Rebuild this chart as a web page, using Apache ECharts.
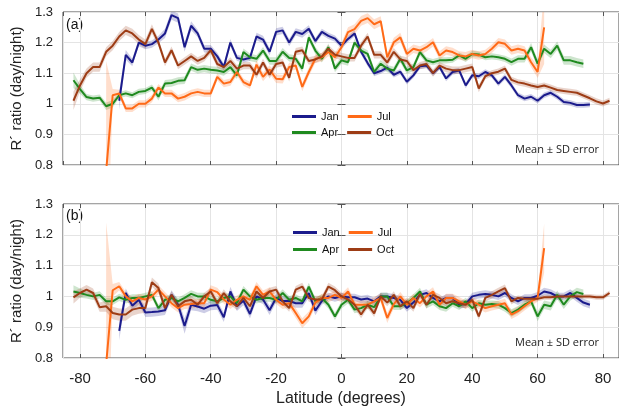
<!DOCTYPE html>
<html>
<head>
<meta charset="utf-8">
<script src="https://cdn.jsdelivr.net/npm/echarts@6/dist/echarts.min.js"></script>
<style>html,body{margin:0;padding:0;background:#fff}#c{width:619px;height:414px}</style>
</head>
<body>
<div id="c"></div>
<script>
// ---------- DATA ----------
const monthNames = ['Jan', 'Apr', 'Jul', 'Oct'];
const yTicks = [0.8, 0.9, 1.0, 1.1, 1.2, 1.3];
const xTicks = [-80, -60, -40, -20, 0, 20, 40, 60, 80];

const latJan = [-68,-66,-64,-62,-60,-58,-56,-54,-52,-50,-48,-46,-44,-42,-40,-38,-36,-34,-32,-30,-28,-26,-24,-22,-20,-18,-16,-14,-12,-10,-8,-6,-4,-2,0,2,4,6,8,10,12,14,16,18,20,22,24,26,28,30,32,34,36,38,40,42,44,46,48,50,52,54,56,58,60,62,64,66,68,70,72,74,76];
const latApr = [-82,-80,-78,-76,-74,-72,-70,-68,-66,-64,-62,-60,-58,-56,-54,-52,-50,-48,-46,-44,-42,-40,-38,-36,-34,-32,-30,-28,-26,-24,-22,-20,-18,-16,-14,-12,-10,-8,-6,-4,-2,0,2,4,6,8,10,12,14,16,18,20,22,24,26,28,30,32,34,36,38,40,42,44,46,48,50,52,54,56,58,60,62,64,66,68,70,72,74];
const latJul = [-72,-70,-68,-66,-64,-62,-60,-58,-56,-54,-52,-50,-48,-46,-44,-42,-40,-38,-36,-34,-32,-30,-28,-26,-24,-22,-20,-18,-16,-14,-12,-10,-8,-6,-4,-2,0,2,4,6,8,10,12,14,16,18,20,22,24,26,28,30,32,34,36,38,40,42,44,46,48,50,52,54,56,58,60,62];
const latOct = [-82,-80,-78,-76,-74,-72,-70,-68,-66,-64,-62,-60,-58,-56,-54,-52,-50,-48,-46,-44,-42,-40,-38,-36,-34,-32,-30,-28,-26,-24,-22,-20,-18,-16,-14,-12,-10,-8,-6,-4,-2,0,2,4,6,8,10,12,14,16,18,20,22,24,26,28,30,32,34,36,38,40,42,44,46,48,50,52,54,56,58,60,62,64,66,68,70,72,74,76,78,80,82];

// Panel (a) means
const janA = [1.01,1.16,1.135,1.20,1.19,1.195,1.21,1.23,1.29,1.28,1.185,1.255,1.23,1.18,1.18,1.155,1.12,1.20,1.15,1.145,1.15,1.22,1.21,1.17,1.235,1.24,1.20,1.235,1.228,1.245,1.205,1.235,1.222,1.213,1.19,1.212,1.23,1.17,1.133,1.10,1.107,1.118,1.095,1.105,1.072,1.093,1.123,1.125,1.10,1.12,1.083,1.104,1.109,1.06,1.093,1.09,1.104,1.093,1.066,1.088,1.06,1.028,1.017,1.023,1.01,1.028,1.036,1.023,1.006,1.003,0.996,0.996,0.998];
const aprA = [1.077,1.048,1.022,1.017,1.02,0.992,1.0,1.028,1.034,1.028,1.039,1.042,1.053,1.023,1.066,1.068,1.075,1.077,1.12,1.111,1.115,1.111,1.109,1.104,1.12,1.093,1.169,1.152,1.147,1.174,1.14,1.14,1.17,1.15,1.147,1.115,1.217,1.174,1.147,1.185,1.115,1.142,1.136,1.2,1.174,1.163,1.104,1.131,1.115,1.109,1.147,1.109,1.12,1.169,1.142,1.136,1.142,1.142,1.144,1.158,1.147,1.163,1.161,1.152,1.155,1.152,1.147,1.136,1.147,1.147,1.185,1.131,1.18,1.163,1.19,1.142,1.142,1.136,1.131];
const julA = [0.78,1.028,1.034,0.985,0.985,1.0,1.0,1.017,1.053,1.034,1.034,1.017,1.023,1.034,1.039,1.034,1.034,1.088,1.066,1.071,1.104,1.071,1.06,1.128,1.088,1.112,1.082,1.08,1.12,1.125,1.055,1.104,1.147,1.152,1.169,1.152,1.185,1.234,1.244,1.271,1.28,1.26,1.27,1.152,1.201,1.217,1.163,1.18,1.174,1.185,1.201,1.158,1.174,1.169,1.158,1.155,1.163,1.158,1.163,1.18,1.201,1.196,1.174,1.18,1.174,1.136,1.104,1.25];
const octA = [1.01,1.06,1.10,1.12,1.12,1.17,1.19,1.22,1.24,1.23,1.21,1.195,1.245,1.20,1.135,1.175,1.125,1.14,1.155,1.14,1.15,1.175,1.13,1.12,1.14,1.115,1.125,1.125,1.095,1.135,1.095,1.13,1.135,1.085,1.17,1.175,1.14,1.145,1.155,1.18,1.16,1.155,1.15,1.15,1.19,1.22,1.16,1.16,1.135,1.17,1.145,1.14,1.11,1.125,1.13,1.10,1.125,1.115,1.11,1.11,1.115,1.12,1.05,1.09,1.10,1.105,1.115,1.078,1.07,1.066,1.06,1.055,1.06,1.053,1.045,1.042,1.039,1.036,1.027,1.018,1.008,1.001,1.01];

// Panel (a) SD error
const janSdA = [0.03,0.016,0.012,0.012,0.012,0.012,0.012,0.015,0.015,0.015,0.015,0.015,0.012,0.012,0.012,0.012,0.012,0.012,0.01,0.01,0.01,0.012,0.012,0.012,0.012,0.012,0.012,0.012,0.012,0.012,0.01,0.01,0.01,0.01,0.01,0.01,0.01,0.01,0.01,0.01,0.009,0.009,0.009,0.009,0.009,0.009,0.009,0.009,0.009,0.009,0.009,0.009,0.009,0.009,0.009,0.009,0.009,0.009,0.009,0.009,0.009,0.009,0.009,0.009,0.009,0.009,0.009,0.009,0.009,0.009,0.009,0.009,0.009];
const aprSdA = [0.025,0.015,0.01,0.01,0.01,0.012,0.012,0.01,0.01,0.01,0.01,0.01,0.01,0.012,0.012,0.012,0.012,0.012,0.012,0.012,0.012,0.012,0.012,0.012,0.012,0.012,0.012,0.012,0.012,0.012,0.012,0.012,0.012,0.012,0.012,0.012,0.012,0.012,0.012,0.012,0.012,0.012,0.012,0.012,0.012,0.012,0.012,0.012,0.012,0.012,0.012,0.012,0.012,0.012,0.01,0.01,0.01,0.01,0.01,0.01,0.01,0.01,0.01,0.01,0.01,0.01,0.01,0.012,0.012,0.012,0.014,0.014,0.014,0.014,0.014,0.014,0.014,0.014,0.014];
const julSdA = [0.36,0.02,0.012,0.012,0.012,0.012,0.012,0.012,0.012,0.012,0.012,0.012,0.012,0.012,0.012,0.012,0.012,0.012,0.012,0.012,0.012,0.012,0.012,0.014,0.014,0.014,0.014,0.014,0.014,0.014,0.014,0.014,0.014,0.014,0.014,0.014,0.015,0.016,0.016,0.016,0.016,0.016,0.016,0.015,0.015,0.015,0.014,0.014,0.014,0.014,0.014,0.014,0.014,0.014,0.014,0.014,0.014,0.014,0.014,0.014,0.014,0.014,0.014,0.014,0.014,0.016,0.02,0.12];
const octSdA = [0.03,0.02,0.015,0.015,0.015,0.015,0.015,0.015,0.015,0.015,0.015,0.015,0.015,0.012,0.012,0.012,0.012,0.012,0.012,0.012,0.012,0.012,0.012,0.012,0.012,0.012,0.012,0.012,0.012,0.012,0.012,0.012,0.012,0.012,0.012,0.012,0.012,0.012,0.012,0.012,0.012,0.012,0.012,0.012,0.012,0.012,0.012,0.012,0.012,0.012,0.012,0.012,0.012,0.012,0.012,0.012,0.012,0.012,0.012,0.012,0.012,0.012,0.012,0.01,0.01,0.01,0.01,0.01,0.01,0.01,0.01,0.01,0.01,0.01,0.01,0.01,0.01,0.01,0.01,0.01,0.01,0.01,0.01];

// Panel (b) means
const janB = [0.888,1.011,0.97,0.989,0.948,0.949,0.951,0.955,1.005,0.973,0.904,0.973,0.967,0.96,0.97,0.972,0.932,1.016,0.968,0.986,0.943,1.0,0.99,0.955,0.995,0.985,0.985,0.978,0.978,1.011,0.954,0.985,1.0,0.995,1.0,0.997,0.997,0.99,0.993,0.984,1.0,1.0,0.995,0.989,0.962,0.98,1.005,1.011,0.995,0.984,0.995,0.995,0.973,0.975,1.0,1.005,1.008,1.005,1.0,1.011,0.995,0.984,0.995,0.995,1.002,1.016,1.011,1.0,1.0,1.011,0.995,0.98,0.973];
const aprB = [1.016,1.011,1.005,1.0,1.005,0.984,0.984,0.997,0.989,0.995,0.995,1.0,1.005,0.962,0.989,0.995,0.984,0.995,1.008,1.0,1.0,0.989,0.984,0.995,1.0,0.978,1.022,1.0,0.989,0.995,0.995,0.989,1.011,0.989,0.995,0.984,1.032,0.984,0.995,0.973,0.935,0.973,0.989,0.957,0.962,0.973,0.965,1.0,1.0,0.968,0.968,0.978,0.995,1.016,0.973,0.984,0.968,0.962,0.978,0.968,0.984,0.962,0.978,0.973,0.975,0.973,0.962,0.946,0.957,0.973,0.984,0.935,0.973,0.968,1.005,0.973,1.0,1.014,1.008];
const julB = [0.78,1.02,1.033,1.0,0.984,0.995,0.99,1.0,1.022,1.0,0.978,0.962,0.973,0.975,0.978,0.978,1.022,1.014,0.99,0.973,0.989,1.0,0.989,1.033,1.005,1.016,0.989,0.973,0.978,0.946,0.913,0.935,0.98,0.995,0.995,1.005,0.995,1.016,0.973,0.973,0.973,0.984,0.995,0.93,0.975,1.0,0.973,0.995,0.978,1.0,1.016,0.973,0.995,0.995,0.984,0.973,0.984,0.973,0.962,0.968,0.973,0.978,0.941,0.952,0.968,0.984,0.995,1.157];
const octB = [0.997,1.011,1.022,1.011,0.965,0.968,0.946,0.941,0.941,0.957,0.962,0.962,1.046,1.027,0.962,1.005,0.968,0.984,0.989,0.973,1.0,1.016,0.978,1.011,0.984,0.968,0.995,0.968,1.016,0.995,1.016,1.022,0.984,0.962,1.022,1.032,0.995,0.99,0.99,1.032,1.02,1.0,0.99,0.973,0.941,0.973,0.945,1.0,0.98,1.005,0.968,0.984,0.962,1.008,0.973,1.005,0.995,0.978,0.984,0.978,0.973,0.989,0.935,0.995,1.005,1.016,1.027,0.984,0.995,0.992,0.992,0.992,0.997,0.997,1.0,1.0,1.0,1.0,1.0,1.0,0.997,0.997,1.011];

// Panel (b) SD error
const janSdB = [0.03,0.015,0.015,0.015,0.015,0.015,0.015,0.015,0.015,0.015,0.025,0.018,0.015,0.015,0.015,0.015,0.015,0.015,0.015,0.015,0.015,0.015,0.015,0.015,0.015,0.015,0.015,0.015,0.015,0.015,0.015,0.012,0.012,0.012,0.012,0.012,0.012,0.012,0.012,0.012,0.012,0.012,0.012,0.012,0.012,0.012,0.012,0.012,0.012,0.012,0.012,0.012,0.012,0.012,0.012,0.012,0.012,0.012,0.012,0.012,0.012,0.012,0.012,0.012,0.012,0.012,0.012,0.012,0.012,0.012,0.012,0.012,0.012];
const aprSdB = [0.02,0.015,0.012,0.012,0.012,0.012,0.012,0.012,0.012,0.012,0.012,0.012,0.012,0.012,0.012,0.012,0.012,0.012,0.012,0.012,0.012,0.012,0.012,0.012,0.012,0.012,0.012,0.012,0.012,0.012,0.012,0.012,0.012,0.012,0.012,0.012,0.012,0.012,0.012,0.012,0.012,0.012,0.012,0.012,0.012,0.012,0.012,0.012,0.012,0.012,0.012,0.012,0.012,0.012,0.012,0.012,0.012,0.012,0.012,0.012,0.012,0.012,0.012,0.012,0.012,0.012,0.012,0.012,0.012,0.012,0.012,0.016,0.014,0.014,0.014,0.014,0.014,0.014,0.014];
const julSdB = [0.46,0.02,0.014,0.014,0.014,0.014,0.014,0.014,0.014,0.014,0.014,0.014,0.014,0.014,0.014,0.014,0.014,0.014,0.014,0.014,0.014,0.014,0.014,0.014,0.014,0.014,0.014,0.014,0.014,0.016,0.016,0.016,0.014,0.014,0.014,0.014,0.014,0.014,0.014,0.014,0.014,0.014,0.014,0.016,0.014,0.014,0.014,0.014,0.014,0.014,0.014,0.014,0.014,0.014,0.014,0.014,0.014,0.014,0.014,0.014,0.014,0.014,0.014,0.014,0.014,0.014,0.012,0.08];
const octSdB = [0.02,0.015,0.015,0.015,0.015,0.018,0.02,0.02,0.02,0.02,0.018,0.015,0.015,0.015,0.015,0.012,0.012,0.012,0.012,0.012,0.012,0.012,0.012,0.012,0.012,0.012,0.012,0.012,0.012,0.012,0.012,0.012,0.012,0.012,0.012,0.012,0.012,0.012,0.012,0.012,0.012,0.012,0.012,0.012,0.012,0.012,0.012,0.012,0.012,0.012,0.012,0.012,0.012,0.012,0.012,0.012,0.012,0.012,0.012,0.012,0.012,0.012,0.012,0.012,0.012,0.012,0.012,0.01,0.008,0.008,0.008,0.008,0.008,0.008,0.008,0.008,0.008,0.008,0.008,0.008,0.008,0.008,0.008];

// ---------- STYLE ----------
const colors = { Jan: '#1b1b8c', Apr: '#1f8a1f', Jul: '#ff6a17', Oct: '#9d3c15' };
const FONT = '"Liberation Sans", Arial, sans-serif';

const panels = [
  { Jan: [latJan, janA, janSdA], Apr: [latApr, aprA, aprSdA], Jul: [latJul, julA, julSdA], Oct: [latOct, octA, octSdA] },
  { Jan: [latJan, janB, janSdB], Apr: [latApr, aprB, aprSdB], Jul: [latJul, julB, julSdB], Oct: [latOct, octB, octSdB] }
];

const series = [];
panels.forEach((p, gi) => {
  // SD bands as polygons through the axes' scales
  monthNames.forEach(m => {
    const [lat, v, sd] = p[m];
    const n = Math.min(lat.length, v.length, sd.length);
    series.push({
      type: 'custom', xAxisIndex: gi, yAxisIndex: gi, silent: true, z: 1, clip: true, animation: false,
      data: [[lat[0], v[0]]],
      renderItem: (params, api) => {
        const pts = [];
        for (let i = 0; i < n; i++) pts.push(api.coord([lat[i], v[i] + sd[i]]));
        for (let i = n - 1; i >= 0; i--) pts.push(api.coord([lat[i], v[i] - sd[i]]));
        const cs = params.coordSys;
        return {
          type: 'polygon', shape: { points: pts },
          style: { fill: colors[m], opacity: 0.22 },
          clipPath: { type: 'rect', shape: { x: cs.x, y: cs.y, width: cs.width, height: cs.height } }
        };
      }
    });
  });
  monthNames.forEach(m => {
    const [lat, v] = p[m];
    const n = Math.min(lat.length, v.length);
    const d = [];
    for (let i = 0; i < n; i++) d.push([lat[i], v[i]]);
    series.push({ type: 'line', name: m, xAxisIndex: gi, yAxisIndex: gi, data: d, symbol: 'none', clip: true,
      itemStyle: { color: colors[m] }, lineStyle: { color: colors[m], width: 2 }, z: 3, animation: false });
  });
});

const grids = [
  { left: 63, top: 12, width: 557, height: 153 },
  { left: 63, top: 204, width: 557, height: 154 }
].map(g => Object.assign(g, { show: true, borderColor: '#4a4a4a', borderWidth: 1, backgroundColor: 'transparent' }));

const xMin = -85.2, xMax = 84.9;
const xAxes = [];
const yAxes = [];
[0, 1].forEach(gi => {
  xAxes.push({ type: 'value', gridIndex: gi, min: xMin, max: xMax, splitNumber: 8, minInterval: 20, maxInterval: 20,
    axisLine: { show: false },
    axisTick: { show: true, inside: true, length: 4, lineStyle: { color: '#555' } },
    axisLabel: { show: gi === 1, showMinLabel: false, showMaxLabel: false, fontSize: 15, color: '#222', margin: 13, fontFamily: FONT,
      formatter: v => xTicks.includes(Math.round(v)) ? String(Math.round(v)) : '' },
    splitLine: { show: true, lineStyle: { color: '#e4e4e4', width: 1 } },
    name: gi === 1 ? 'Latitude (degrees)' : '', nameLocation: 'middle', nameGap: 33,
    nameTextStyle: { fontSize: 16, color: '#222', fontFamily: FONT } });
  yAxes.push({ type: 'value', gridIndex: gi, min: yTicks[0], max: yTicks[yTicks.length - 1], interval: 0.1,
    axisLine: { show: false },
    axisTick: { show: true, inside: true, length: 4, lineStyle: { color: '#555' } },
    axisLabel: { fontSize: 13, color: '#222', margin: 10, fontFamily: FONT },
    splitLine: { show: true, lineStyle: { color: '#e4e4e4', width: 1 } },
    name: 'R\u00b4 ratio (day/night)', nameLocation: 'middle', nameGap: 38,
    nameTextStyle: { fontSize: 15, color: '#222', fontFamily: FONT } });
});
[0, 1].forEach(gi => {
  xAxes.push({ type: 'value', gridIndex: gi, position: 'top', min: xMin, max: xMax, splitNumber: 8, minInterval: 20, maxInterval: 20,
    axisLine: { show: false }, axisLabel: { show: false }, splitLine: { show: false },
    axisTick: { show: true, inside: true, length: 4, lineStyle: { color: '#555' } } });
  yAxes.push({ type: 'value', gridIndex: gi, position: 'right', min: 0.8, max: 1.3, interval: 0.1,
    axisLine: { show: false }, axisLabel: { show: false }, splitLine: { show: false },
    axisTick: { show: true, inside: true, length: 4, lineStyle: { color: '#555' } } });
});

const legendBase = { icon: 'rect', itemWidth: 24, itemHeight: 3, itemGap: 9, orient: 'horizontal', selectedMode: false,
  textStyle: { fontSize: 11, color: '#111', fontFamily: FONT }, padding: 0 };
const legends = [
  Object.assign({}, legendBase, { left: 292, top: 111, data: ['Jan', 'Jul'] }),
  Object.assign({}, legendBase, { left: 292, top: 127, data: ['Apr', 'Oct'] }),
  Object.assign({}, legendBase, { left: 293, top: 227, data: ['Jan', 'Jul'] }),
  Object.assign({}, legendBase, { left: 293, top: 244, data: ['Apr', 'Oct'] })
];

const chart = echarts.init(document.getElementById('c'), null, { renderer: 'canvas' });
chart.setOption({
  animation: false,
  backgroundColor: '#fff',
  grid: grids,
  xAxis: xAxes,
  yAxis: yAxes,
  legend: legends,
  series: series,
  graphic: [
    { type: 'text', left: 66, top: 18, style: { text: '(a)', fontSize: 14, fill: '#111', fontFamily: FONT } },
    { type: 'text', left: 66, top: 209, style: { text: '(b)', fontSize: 14, fill: '#111', fontFamily: FONT } },
    { type: 'text', left: 515, top: 144, style: { text: 'Mean \u00b1 SD error', fontSize: 11, fill: '#222', fontFamily: '"Open Sans", sans-serif' } },
    { type: 'text', left: 515, top: 337, style: { text: 'Mean \u00b1 SD error', fontSize: 11, fill: '#222', fontFamily: '"Open Sans", sans-serif' } }
  ]
});
</script>
</body>
</html>
